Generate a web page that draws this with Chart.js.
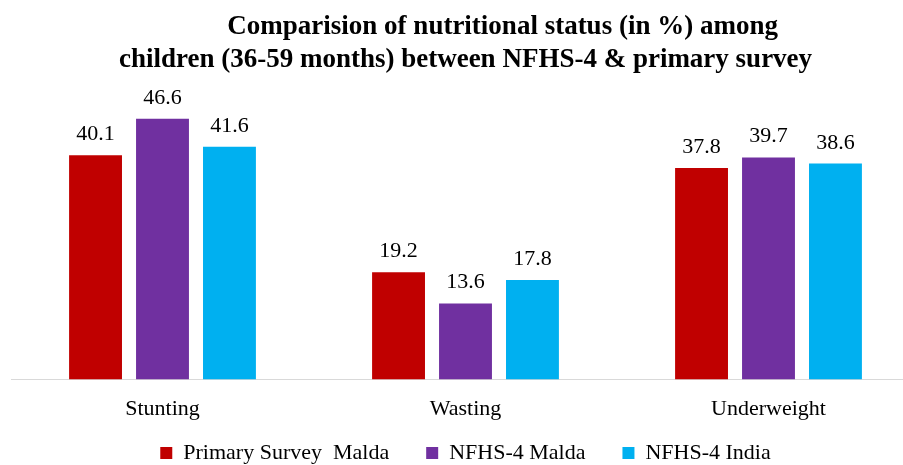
<!DOCTYPE html>
<html>
<head>
<meta charset="utf-8">
<script src="https://cdn.jsdelivr.net/npm/chart.js@4.4.1/dist/chart.umd.min.js"></script>
<style>
html, body { margin: 0; padding: 0; background: #fff; overflow: hidden; }
</style>
</head>
<body>
<canvas id="grafica" width="931" height="499"></canvas>
<script>
// Datos
const categorias = ['Stunting', 'Wasting', 'Underweight'];
const series = ['Primary Survey  Malda', 'NFHS-4 Malda', 'NFHS-4 India'];
const primarySurveyMalda = [40.1, 19.2, 37.8];
const nfhs4Malda = [46.6, 13.6, 39.7];
const nfhs4India = [41.6, 17.8, 38.6];
const colores = ['#C00000', '#7030A0', '#00B0F0'];

const fuente = '"Liberation Serif", "Times New Roman", serif';

// Etiquetas de valor encima de cada barra
const etiquetasValores = {
    id: 'etiquetasValores',
    afterDatasetsDraw(chart) {
        const ctx = chart.ctx;
        ctx.save();
        ctx.font = '22px ' + fuente;
        ctx.fillStyle = '#000';
        ctx.textAlign = 'center';
        ctx.textBaseline = 'alphabetic';
        chart.data.datasets.forEach((ds, i) => {
            chart.getDatasetMeta(i).data.forEach((bar, j) => {
                ctx.fillText(ds.data[j].toFixed(1), bar.x, bar.y - 15);
            });
        });
        ctx.restore();
    }
};

// Subir la leyenda: el padding grande separa los items pero deja mucho hueco arriba
const subirLeyenda = {
    id: 'subirLeyenda',
    afterLayout(chart) {
        chart.legend.top -= 25;
        chart.legend.bottom -= 25;
    }
};

new Chart(document.getElementById('grafica'), {
    type: 'bar',
    data: {
        labels: categorias,
        datasets: [
            { label: series[0], data: primarySurveyMalda, backgroundColor: colores[0] },
            { label: series[1], data: nfhs4Malda, backgroundColor: colores[1] },
            { label: series[2], data: nfhs4India, backgroundColor: colores[2] },
        ],
    },
    options: {
        responsive: false,
        animation: false,
        categoryPercentage: 0.663,
        barPercentage: 0.79,
        layout: { padding: { left: 11, right: 11, top: 0, bottom: 0 } },
        scales: {
            x: {
                grid: { display: false },
                border: { color: '#D9D9D9', width: 1 },
                ticks: { color: '#000', font: { family: fuente, size: 22 }, padding: 8 },
            },
            y: { display: false, min: 0, max: 50 },
        },
        plugins: {
            title: {
                display: true,
                text: ['           Comparision of nutritional status (in %) among',
                       'children (36-59 months) between NFHS-4 & primary survey'],
                color: '#000',
                font: { family: fuente, size: 27, weight: 'bold' },
                padding: { top: 11, bottom: 24 },
            },
            legend: {
                position: 'bottom',
                labels: {
                    color: '#000',
                    font: { family: fuente, size: 22 },
                    boxWidth: 12,
                    boxHeight: 12,
                    padding: 37,
                },
            },
            tooltip: { enabled: false },
        },
    },
    plugins: [etiquetasValores, subirLeyenda],
});
</script>
</body>
</html>
